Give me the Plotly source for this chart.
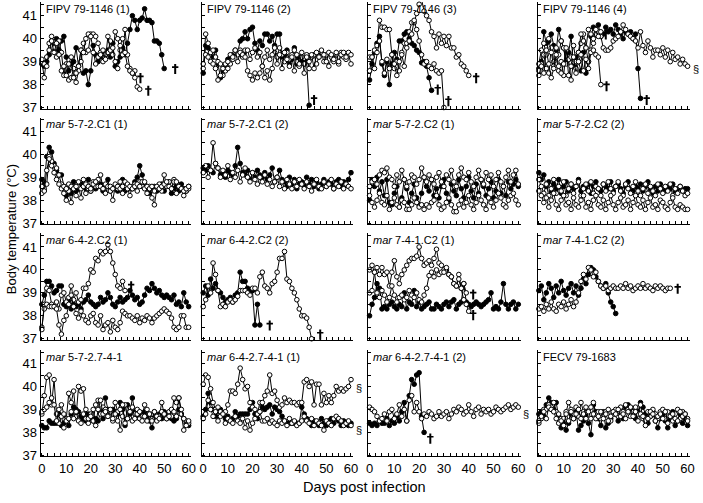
import plotly.graph_objects as go

# ---------------- data (body temperature, deg C, one value per day from day 0) -------------
p1_filled = [38.9,38.8,39.0,39.3,39.9,39.5,40.0,39.5,39.9,40.1,39.2,38.6,38.9,39.0,39.6,38.8,39.5,38.5,38.6,38.0,38.6,39.7,39.3,39.0,39.2,39.4,39.3,39.5,39.2,39.8,38.8,39.0,39.2,39.6,39.3,39.8,40.4,41.0,40.8,40.4,40.8,40.9,41.3,40.8,40.8,40.7,39.9,39.9,39.8,39.3,38.7]
p1_open_a = [39.0,38.3,39.2,39.8,40.1,39.6,39.2,39.9,39.4,38.4,38.9,38.2,38.3,38.7,38.1,38.6,39.0,39.8,39.4,39.5,40.2,40.2,40.1,39.8,39.4,39.0,39.3,39.4,39.9,39.3,40.3,40.0,39.5,39.3,40.4,39.3,38.7,38.5,38.6,37.9,37.8]
p1_open_b = [39.1,38.9,38.8,39.5,39.9,39.4,39.8,39.3,38.6,38.8,38.4,38.9,39.2,38.3,38.5,38.8,39.5,39.4,40.0,40.2,40.1,39.4,38.9,39.2,39.3,39.5,39.1,40.1,39.5,39.6,39.0,38.7,39.7,40.0,39.4,38.8,38.6,38.5,38.3]

p2_filled = [38.5,39.7,39.6,39.4,39.2,39.5,38.9,38.3,38.6,38.8,39.1,39.2,39.3,39.5,39.4,39.9,40.0,40.3,40.0,40.4,40.5,39.8,39.5,39.9,39.7,40.2,40.2,39.9,40.1,39.7,40.2,40.2,39.2,39.3,39.5,38.9,39.1,39.6,38.9,39.2,39.0,38.9,39.0,37.1]
p2_open_a = [38.7,40.2,39.8,39.4,39.5,39.2,39.0,38.9,38.4,38.6,38.7,38.9,39.1,39.4,39.3,39.5,39.2,39.5,38.6,38.4,38.2,38.5,38.3,38.5,38.8,38.3,38.6,38.2,38.7,39.4,39.2,39.6,39.3,39.0,39.4,39.1,39.3,39.5,39.0,38.8,39.2,38.9,39.3,38.7,39.2,39.3,38.9,39.2,39.4,39.0,39.3,38.8,39.2,39.0,39.3,38.9,39.4,39.2,39.1,39.3,38.9]
p2_open_b = [38.9,39.3,39.2,39.0,38.9,38.7,38.2,38.4,38.7,38.9,39.0,39.3,39.2,39.5,39.0,39.4,39.3,39.2,39.5,39.1,39.4,39.6,39.2,39.4,38.8,39.2,39.5,39.1,39.3,39.6,38.9,39.3,38.7,39.4,39.1,38.8,39.2,38.6,39.3,38.9,39.4,38.5,39.2,39.0,39.3,38.7,39.4,39.2,39.5,39.3,39.0,39.4,39.3,39.1,39.4,39.0,39.3,39.4,39.2,39.4,39.3]

p3_filled = [38.2,38.9,39.4,39.8,40.1,38.9,38.4,39.0,38.0,38.9,39.4,39.1,39.9,39.9,40.2,40.3,40.0,39.8,39.7,39.5,39.4,38.95,39.0,38.8,38.3,37.75]
p3_open_a = [39.2,39.2,39.5,39.7,40.8,40.5,40.5,40.4,40.4,39.3,38.7,39.0,38.6,39.4,39.8,39.8,40.3,40.7,40.7,41.1,41.5,41.7,41.2,41.0,40.8,40.3,40.1,39.6,40.2,39.8,40.1,39.7,40.1,39.6,39.6,39.2,39.3,38.9,38.8,38.6,38.4]
p3_open_b = [38.6,39.2,38.7,39.4,39.9,39.0,38.5,39.1,38.7,39.3,38.9,38.4,39.0,39.3,38.8,39.6,39.9,40.2,40.8,40.4,39.9,39.3,38.9,39.0,38.8,38.7,38.9,38.6,38.5,38.6,37.0]

p4_filled = [38.7,39.0,40.3,39.8,39.9,40.2,39.7,39.5,40.4,39.9,39.6,39.0,39.4,40.1,38.8,39.2,39.0,38.6,39.4,38.5,39.0,40.1,40.5,40.4,40.6,40.1,40.2,40.5,40.3,40.4,40.2,40.6,40.4,40.2,40.0,40.3,40.2,40.3,40.0,40.2,38.7,37.4]
p4_open_a = [38.6,38.9,39.3,38.7,38.5,39.6,39.0,39.2,38.6,39.0,38.4,39.5,39.1,38.2,39.0,38.7,39.4,39.8,40.2,39.6,39.0,39.5,39.8,40.2,40.3,40.1,39.6,39.5,39.5,39.6,39.9,40.0,40.1,40.3,40.6,40.4,40.2,40.1,40.0,39.9,39.6,40.3,39.7,39.4,39.9,39.6,39.2,39.5,39.5,39.3,39.6,39.2,39.5,39.0,39.4,39.1,39.2,38.9,39.1,38.9,38.8]
p4_open_b = [38.9,39.5,39.8,39.3,40.0,39.4,38.8,39.6,39.3,39.9,39.6,38.9,39.1,39.2,39.7,39.0,39.4,40.2,39.9,39.6,40.4,40.2,40.0,40.4,40.1,40.3]
p4_open_c = [38.4,38.8,38.5,39.5,38.9,38.3,38.7,39.3,38.8,38.5,38.9,39.6,38.4,38.8,39.2,38.5,39.0,39.3,38.6,39.1,38.7,39.4,39.5,39.3,39.2,38.0]

p5_filled = [38.9,38.7,39.9,40.3,40.1,39.6,39.3,39.1,39.1,38.6,38.2,38.5,38.3,38.8,38.4,38.5,38.7,38.6,38.5,38.9,38.4,38.6,38.5,38.6,38.7,38.4,38.6,38.9,38.4,38.5,38.6,38.4,38.5,38.9,38.4,38.6,38.5,38.5,38.8,39.0,39.5,39.1,38.7,38.5,38.3,38.5,38.6,38.4,38.5,38.7,38.4,38.6,38.8,38.3,38.5,38.6,38.4,38.7,38.5,38.4,38.6]
p5_open_a = [38.3,38.5,38.7,39.9,39.7,39.5,39.4,39.1,38.7,38.3,38.0,38.4,37.9,38.5,38.2,38.6,38.1,38.9,38.3,38.5,38.4,38.8,38.6,38.9,39.1,38.5,38.3,38.6,38.4,38.0,38.6,38.5,38.8,38.3,38.6,38.5,38.2,38.6,38.7,38.4,38.8,38.6,38.5,38.3,38.6,38.1,37.8,38.5,38.7,38.4,39.1,38.6,38.8,38.5,38.9,38.3,38.6,38.5,38.2,38.4,38.5]
p5_open_b = [38.6,38.4,39.3,39.8,39.5,39.2,38.9,38.7,38.5,38.6,38.5,38.7,38.6,38.5,38.6,38.8,38.5,38.6,38.7,38.6,38.5,38.7,38.8,38.6,38.6,38.5,38.7,38.6,38.6,38.5,38.7,38.6,38.5,38.6,38.8,38.7,38.6,38.5,38.6,38.7,38.6,38.8,38.8,38.6,38.5,38.6,38.4,38.6,38.5,38.6,38.7,38.8,38.6,38.5,38.8,38.8,38.6,38.5,38.4,38.5,38.6]

p6_filled = [39.4,39.3,39.5,39.3,39.2,39.6,39.4,39.1,39.2,39.0,39.3,39.2,39.1,39.5,40.3,39.6,39.2,39.1,39.3,38.9,39.2,39.0,39.3,39.1,39.0,39.2,38.9,39.1,39.4,38.8,39.0,39.3,38.9,38.8,38.6,39.0,38.7,38.9,38.5,38.7,38.8,38.6,39.0,38.7,38.9,38.6,38.8,38.5,38.7,38.9,38.6,38.8,38.7,38.5,38.8,38.9,38.6,38.8,38.7,38.9,39.2]
p6_open_a = [39.2,39.5,39.0,39.3,40.5,39.6,39.4,39.0,39.3,39.1,39.5,38.9,39.2,39.0,39.3,38.8,39.1,39.4,39.0,38.8,39.2,38.9,38.7,39.0,38.8,39.1,38.7,38.9,38.6,38.8,39.0,38.6,38.8,38.5,38.9,38.7,38.5,38.8,38.6,38.9,38.7,38.5,38.8,38.6,38.4,38.7,38.9,38.6,38.5,38.8,38.6,38.7,38.9,38.5,38.7,38.6,38.8,38.5,38.7,38.6,38.5]

p7_filled = [38.0,38.9,38.6,39.0,38.4,38.8,38.2,38.9,37.9,37.8,38.3,38.6,37.7,38.1,38.9,38.5,37.9,38.3,38.7,38.1,37.8,38.3,39.0,38.6,38.4,38.9,38.2,38.5,38.1,38.6,38.9,38.3,38.0,38.7,38.4,38.2,38.9,38.5,38.1,38.6,39.0,38.4,38.1,38.7,38.3,38.9,38.6,38.2,38.5,38.8,38.1,38.4,38.9,38.3,38.6,38.2,38.8,38.5,38.7,38.9,38.6]
p7_open_a = [38.6,38.8,38.9,38.7,39.1,39.3,39.2,39.4,39.0,38.9,38.6,39.1,38.8,39.3,38.9,38.6,38.8,39.1,39.0,38.7,38.9,39.4,39.0,38.8,39.1,38.9,38.7,39.0,39.2,38.8,38.6,39.1,38.9,39.3,38.8,38.6,39.1,39.4,39.0,38.9,39.2,38.8,38.6,39.0,39.3,38.9,38.7,39.2,38.9,39.1,38.6,38.9,39.2,38.8,38.6,39.0,39.3,38.8,39.1,39.3,38.7]
p7_open_b = [38.2,37.9,37.7,38.0,38.3,37.9,37.8,38.2,37.6,37.9,38.1,37.8,37.7,38.0,37.9,37.6,37.6,37.8,38.1,37.9,37.7,37.8,37.6,37.8,37.7,37.9,38.0,38.2,37.8,37.6,37.7,37.9,38.1,37.8,37.5,37.5,37.8,38.0,37.7,37.9,38.2,37.8,37.6,37.9,38.2,38.0,37.8,37.6,38.1,37.9,37.7,38.0,38.3,38.1,37.8,37.7,38.0,38.2,38.3,38.0,37.8]

p8_filled = [39.2,38.9,39.1,38.6,38.8,38.4,38.7,38.5,38.9,38.3,38.6,38.8,38.4,38.7,38.5,38.6,38.9,38.4,38.6,38.5,38.7,38.3,38.6,38.8,38.5,38.4,38.7,38.6,38.5,38.8,38.4,38.6,38.7,38.5,38.3,38.6,38.8,38.5,38.4,38.6,38.5,38.7,38.4,38.6,38.8,38.5,38.3,38.6,38.4,38.7,38.5,38.4,38.6,38.5,38.7,38.4,38.5,38.6,38.4,38.5,38.5]
p8_open_a = [38.9,38.6,38.3,38.7,38.2,38.5,38.9,38.3,38.6,38.4,38.8,38.2,38.5,38.7,38.3,38.6,38.8,38.2,38.5,38.7,38.4,38.8,38.3,38.6,38.5,38.2,38.7,38.4,38.8,38.5,38.3,38.6,38.8,38.4,38.2,38.7,38.5,38.3,38.6,38.8,38.4,38.2,38.5,38.7,38.3,38.6,38.4,38.2,38.7,38.5,38.3,38.6,38.4,38.7,38.2,38.5,38.3,38.6,38.4,38.2,38.3]
p8_open_b = [38.4,38.2,37.9,38.1,37.7,38.0,38.3,37.8,37.6,38.0,38.2,37.8,37.9,37.6,38.1,37.8,37.7,38.0,38.2,37.7,37.9,37.6,38.0,38.2,37.8,37.7,38.0,37.6,37.9,38.2,37.8,37.6,37.9,38.1,37.7,37.8,38.0,37.6,37.9,38.2,37.8,37.7,38.0,37.6,37.9,38.1,37.7,37.8,37.6,38.0,37.9,37.7,37.6,37.9,38.1,37.7,37.6,37.8,37.7,37.6,37.6]

p9_filled = [38.5,38.9,39.5,39.5,39.3,39.0,39.1,39.3,39.3,38.5,38.4,38.6,38.3,38.5,38.4,38.5,38.3,38.6,38.7,38.9,38.6,38.5,38.4,38.5,38.8,38.6,38.7,39.0,38.8,38.5,38.4,38.6,38.8,38.6,38.7,38.8,39.1,38.9,38.7,38.8,38.5,38.6,38.9,39.2,39.1,39.4,39.2,39.0,39.1,38.9,38.8,38.9,38.8,38.7,38.9,38.5,38.6,38.4,39.0,38.6,38.4]
p9_open_a = [37.5,38.3,39.2,39.1,38.5,38.4,38.6,38.3,38.9,39.0,38.6,38.8,39.3,38.7,39.0,38.6,38.7,39.2,39.2,39.4,40.0,39.9,40.5,40.4,40.8,40.7,40.8,41.1,40.8,40.3,39.8,39.3,39.2,39.5,39.1]
p9_open_b = [37.4,38.5,38.5,38.4,38.4,38.4,38.3,37.6,37.2,37.8,38.0,38.5,38.9,38.4,38.1,37.9,38.2,38.0,37.8,37.7,38.0,38.1,37.7,37.6,38.0,37.4,37.6,37.7,37.3,37.8,37.5,37.4,37.7,38.2,38.1,38.0,38.0,37.9,37.8,38.0,37.7,37.9,37.8,38.0,37.9,37.7,37.9,38.0,38.1,38.2,38.3,38.2,38.1,37.9,37.5,37.4,37.5,38.0,38.0,37.5,37.5]

p10_filled = [39.0,39.3,38.9,39.6,39.2,39.4,39.1,39.0,38.8,38.6,38.7,38.8,38.6,38.9,39.0,39.9,39.5,39.5,39.2,39.1,39.1,37.6,38.5,37.6]
p10_open_a = [38.4,38.7,39.3,39.0,40.3,39.8,39.1,38.4,38.5,38.4,38.6,38.7,38.6,38.7,38.85,39.1,39.1,39.1,39.0,38.9,39.2,39.2,39.0,39.7,39.9,39.3,39.2,39.0,39.4,39.5,39.9,40.5,40.5,40.8,39.6,39.5,39.2,39.0,38.7,38.3,38.0,38.0,37.9,37.5,37.0]

p11_filled = [38.0,38.5,38.8,39.4,39.2,38.3,38.4,38.3,38.5,38.6,38.4,38.3,38.5,38.4,39.0,38.3,38.6,38.5,39.1,38.4,38.6,38.3,38.4,38.5,38.6,38.3,38.3,38.5,38.4,38.3,38.5,38.6,38.4,38.6,38.7,38.3,38.5,38.6,39.4,38.6,38.5,38.4,38.5,38.6,38.5,38.4,38.5,38.6,38.7,39.0,38.3,38.4,38.3,38.6,39.4,38.5,38.3,38.5,38.6,38.3,38.5]
p11_open_a = [40.0,40.2,39.9,40.1,39.8,40.1,39.8,39.9,39.3,39.9,40.4,39.7,39.4,39.8,40.0,40.2,40.4,40.5,40.5,40.6,41.0,40.5,40.2,40.3,40.4,40.2,40.5,40.9,40.3,40.2,40.0,40.0,39.8,39.7,39.4,39.3,39.8,39.2,39.4,39.0]
p11_open_b = [39.0,39.1,39.9,39.0,38.8,39.1,38.9,38.6,38.8,39.3,38.9,38.6,38.8,38.9,38.7,38.8,39.1,38.9,38.8,39.0,38.7,38.6,38.9,39.2,39.75,39.9,39.7,40.0,39.8,39.9,39.9,40.1,39.8,39.7,39.4,39.3,39.6,39.2,38.7,38.5,38.2]

p12_filled = [39.1,39.3,38.7,39.0,39.4,39.2,38.8,39.3,39.0,39.5,39.1,38.9,39.2,39.4,39.0,39.3,38.9,39.2,39.6,39.4,39.8,40.1,40.0,39.7,39.5,39.3,39.2,39.4,39.0,38.6,38.4,38.1]
p12_open_a = [38.3,38.4,38.2,38.5,38.3,38.6,38.3,38.2,38.5,38.4,38.6,38.3,38.5,38.7,38.4,38.6,39.0,39.5,39.8,39.6,40.1,40.0,39.7,39.9,39.5,39.3,39.2,39.3,39.1,39.2,39.3,39.2,39.2,39.3,39.2,39.4,39.2,39.3,39.1,39.2,39.3,39.2,39.4,39.2,39.3,39.2,39.1,39.3,39.2,39.3,39.2,39.1,39.2,39.2]

p13_filled = [38.3,38.2,38.2,38.5,38.4,38.4,38.4,38.8,38.3,38.4,38.5,38.3,38.8,39.1,39.0,38.9,38.7,38.6,38.5,38.8,38.6,38.5,38.6,38.5,38.9,38.6,39.5,39.0,38.9,39.0,38.9,38.8,39.3,39.0,38.3,39.2,38.8,39.5,38.9,38.7,38.6,38.8,38.9,38.7,38.5,38.2,38.6,38.7,38.8,38.6,38.9,38.8,38.7,38.6,38.5,38.6,39.0,38.8,38.6,38.4,38.3]
p13_open_a = [38.8,39.6,40.4,40.5,39.2,40.3,38.8,38.4,38.7,38.2,38.6,39.7,39.3,39.8,38.7,40.0,39.8,39.9,38.6,38.4,38.8,38.5,39.2,39.4,38.8,39.1,39.0,38.7,38.9,38.5,39.3,38.9,38.1,38.7,39.2,38.6,38.9,38.5,38.8,39.0,38.6,38.7,39.2,38.5,38.8,38.6,38.9,38.5,38.7,39.3,38.8,38.6,38.9,38.7,39.5,39.3,39.5,38.8,38.1,38.5,38.4]
p13_open_b = [38.9,39.0,39.1,39.3,39.5,39.2,38.5,39.0,39.2,38.8,38.5,38.6,38.9,38.6,38.9,38.5,38.4,38.8,39.0,38.6,38.7,39.0,38.3,39.0,39.4,38.8,38.9,38.7,39.0,38.6,38.8,38.5,39.0,39.2,38.4,38.6,38.9,39.1,38.6,38.8,38.9,38.5,38.7,39.0,38.8,38.5,38.9,38.7,38.6,38.9,38.8,38.6,38.7,39.0,38.9,38.7,39.5,39.0,38.6,38.3,38.5]

p14_filled = [38.7,39.0,39.7,39.3,39.0,38.7,38.9,39.0,38.8,38.6,38.7,38.5,38.6,38.9,38.7,38.8,38.8,38.8,38.8,39.0,39.3,38.8,38.6,38.9,39.1,39.0,39.1,39.2,38.8,39.1,39.0,38.9,38.7,38.5,38.4,38.4,38.4,38.4,38.4,38.4,39.1,38.8,38.6,38.5,38.3,38.5,38.4,38.3,38.6,38.4,38.3,38.5,38.6,38.4,38.6,38.5,38.3,38.5,38.4,38.3,38.4]
p14_open_a = [40.1,40.5,40.4,39.9,39.3,39.0,39.1,38.9,38.8,38.9,39.2,39.8,39.8,39.7,40.1,40.8,40.3,39.9,40.0,39.3,39.1,39.0,38.8,39.3,39.3,39.6,39.8,40.5,39.7,39.8,39.4,39.1,39.2,39.5,39.3,39.4,39.3,39.3,39.2,39.3,39.3,40.2,40.3,40.0,40.2,39.2,40.1,40.1,39.2,39.7,39.3,39.6,39.3,39.6,40.0,39.8,39.9,39.8,39.9,40.0,40.3]
p14_open_b = [38.6,38.8,39.4,39.0,38.7,38.9,38.5,38.7,38.8,38.4,38.6,38.5,38.4,38.7,38.5,38.4,38.6,38.2,38.5,38.1,38.4,38.6,38.8,38.9,38.5,38.5,38.6,38.4,38.5,38.4,38.3,38.5,38.4,38.5,38.3,38.6,38.4,38.5,38.3,38.4,38.5,38.7,38.5,38.4,38.6,38.3,38.5,38.4,38.3,38.1,38.5,38.4,38.3,38.6,38.7,38.6,38.5,38.3,38.4,38.5,38.3]

p15_filled = [38.4,38.3,38.4,38.3,38.5,38.4,38.4,38.6,38.3,38.5,38.4,38.7,38.5,38.9,39.3,38.5,39.6,40.3,40.1,40.5,40.6,38.7,38.0]
p15_open_a = [39.1,39.0,38.9,38.7,38.5,38.6,38.8,38.5,38.9,39.0,38.6,38.8,39.2,38.7,39.0,38.5,39.4,39.6,38.9,39.3,38.9,38.6,38.8,38.7,38.9,38.8,38.6,38.7,38.9,38.7,38.8,38.9,38.6,38.8,39.0,38.9,39.1,39.0,38.8,38.9,39.2,38.9,38.7,39.0,39.1,38.8,39.0,38.9,39.0,38.8,38.9,39.1,39.0,38.9,39.0,39.1,39.2,39.0,39.1,39.2,39.1]

p16_filled = [38.8,38.9,38.7,39.2,39.5,39.3,39.0,39.3,38.7,38.2,38.4,38.1,38.4,38.8,38.6,38.9,38.1,38.3,38.5,38.7,38.4,37.9,39.2,38.9,38.6,38.3,38.9,38.2,38.4,38.6,38.9,38.8,38.5,38.7,38.6,39.1,39.2,39.0,38.8,38.6,38.9,39.3,39.1,38.8,38.4,38.7,38.9,38.5,38.2,38.6,38.8,38.5,38.2,38.6,38.9,38.3,38.5,38.8,38.4,38.6,38.3]
p16_open_a = [38.4,38.6,39.0,39.0,39.2,39.1,39.3,38.9,38.8,38.6,38.6,38.9,39.3,39.0,38.8,39.1,38.7,39.3,38.9,38.6,39.0,39.1,39.3,38.8,38.9,38.6,38.7,38.9,39.0,38.5,38.8,39.0,38.7,39.1,38.9,39.2,39.0,38.7,38.9,39.1,38.8,39.2,38.6,38.5,38.9,38.7,39.0,38.8,38.6,38.9,39.0,38.6,38.9,38.7,38.5,38.8,39.0,38.6,38.9,38.8,38.6]
p16_open_b = [38.5,38.7,38.9,38.6,39.1,39.0,38.9,38.6,38.4,38.5,38.3,38.8,38.5,38.9,38.6,38.8,39.0,38.6,38.8,39.1,38.9,38.6,38.8,38.6,38.7,38.9,38.6,38.8,38.5,38.7,38.9,38.8,39.0,38.7,38.8,38.6,38.9,39.1,38.7,38.9,38.5,38.8,38.7,38.3,38.6,38.9,38.8,38.5,38.7,38.8,38.6,38.9,38.4,38.7,38.8,38.6,38.5,38.9,38.7,38.8,38.5]

panel_titles = ["FIPV 79-1146 (1)", "FIPV 79-1146 (2)", "FIPV 79-1146 (3)", "FIPV 79-1146 (4)",
                "<i>mar</i> 5-7-2.C1 (1)", "<i>mar</i> 5-7-2.C1 (2)", "<i>mar</i> 5-7-2.C2 (1)", "<i>mar</i> 5-7-2.C2 (2)",
                "<i>mar</i> 6-4-2.C2 (1)", "<i>mar</i> 6-4-2.C2 (2)", "<i>mar</i> 7-4-1.C2 (1)", "<i>mar</i> 7-4-1.C2 (2)",
                "<i>mar</i> 5-7-2.7-4-1", "<i>mar</i> 6-4-2.7-4-1 (1)", "<i>mar</i> 6-4-2.7-4-1 (2)", "FECV 79-1683"]

# death (dagger) positions: (day, temperature)
p1_deaths = [(54.5, 38.7), (43.5, 37.75), (40.3, 38.3)]
p2_deaths = [(45.0, 37.35)]
p3_deaths = [(27.5, 37.8), (31.8, 37.3), (43.0, 38.3)]
p4_deaths = [(27.0, 40.2), (27.3, 37.95), (43.5, 37.35)]
p9_deaths = [(36.5, 39.3)]
p10_deaths = [(27.0, 37.6), (47.5, 37.2)]
p11_deaths = [(41.8, 38.95), (41.8, 38.05)]
p12_deaths = [(56.0, 39.2)]
p15_deaths = [(24.5, 37.75)]
# end-of-study (section sign) marks, placed just after the last day: (day, temperature)
p4_ends = [(60, 38.7)]
p14_ends = [(60, 39.95), (60, 38.1)]
p15_ends = [(60, 38.8)]

x_tick_labels = ["0", "10", "20", "30", "40", "50", "60"]
y_tick_labels = ["37", "38", "39", "40", "41"]

panel_series = [
    [p1_filled, p1_open_a, p1_open_b], [p2_filled, p2_open_a, p2_open_b],
    [p3_filled, p3_open_a, p3_open_b], [p4_filled, p4_open_a, p4_open_b, p4_open_c],
    [p5_filled, p5_open_a, p5_open_b], [p6_filled, p6_open_a],
    [p7_filled, p7_open_a, p7_open_b], [p8_filled, p8_open_a, p8_open_b],
    [p9_filled, p9_open_a, p9_open_b], [p10_filled, p10_open_a],
    [p11_filled, p11_open_a, p11_open_b], [p12_filled, p12_open_a],
    [p13_filled, p13_open_a, p13_open_b], [p14_filled, p14_open_a, p14_open_b],
    [p15_filled, p15_open_a], [p16_filled, p16_open_a, p16_open_b],
]
panel_deaths = [p1_deaths, p2_deaths, p3_deaths, p4_deaths, [], [], [], [],
                p9_deaths, p10_deaths, p11_deaths, p12_deaths, [], [], p15_deaths, []]
panel_ends = [[], [], [], p4_ends, [], [], [], [], [], [], [], [], [], p14_ends, p15_ends, []]

# ---------------- layout geometry (pixels) ----------------
W, H = 703, 503
FONT = "Liberation Sans, Arial, Helvetica, sans-serif"
col_px = [(39, 191), (202, 355), (370, 524), (541, 695)]
row_px = [(2, 110), (119, 227), (236, 344), (354, 462)]
X_RANGE = [-0.5, 61]
Y_RANGE = [36.95, 41.6]

fig = go.Figure()
layout = dict(width=W, height=H, margin=dict(l=0, r=0, t=0, b=0),
              paper_bgcolor="white", plot_bgcolor="white", showlegend=False,
              font=dict(family=FONT, color="black"))
annotations = []
shapes = []

x_tickvals = [i * 2.5 for i in range(25)]
y_tickvals = [37 + i * 0.5 for i in range(10)]

for idx in range(16):
    r, c = divmod(idx, 4)
    k = idx + 1
    xname = "x" if k == 1 else f"x{k}"
    yname = "y" if k == 1 else f"y{k}"
    x0, x1 = col_px[c]
    yt, yb = row_px[r]
    xt_text = [x_tick_labels[int(v // 10)] if (r == 3 and v % 10 == 0) else "" for v in x_tickvals]
    yt_text = [y_tick_labels[int(v) - 37] if (c == 0 and v == int(v)) else "" for v in y_tickvals]
    layout["xaxis" if k == 1 else f"xaxis{k}"] = dict(
        domain=[x0 / W, x1 / W], range=X_RANGE, anchor=yname,
        showline=True, linecolor="black", linewidth=1, mirror=False,
        ticks="inside", ticklen=3, tickwidth=1, tickcolor="black",
        tickmode="array", tickvals=x_tickvals, ticktext=xt_text,
        showgrid=False, zeroline=False, tickfont=dict(size=13, family=FONT, color="black"))
    layout["yaxis" if k == 1 else f"yaxis{k}"] = dict(
        domain=[1 - yb / H, 1 - yt / H], range=Y_RANGE, anchor=xname,
        showline=True, linecolor="black", linewidth=1, mirror=False,
        ticks="inside", ticklen=3, tickwidth=1, tickcolor="black",
        tickmode="array", tickvals=y_tickvals, ticktext=yt_text,
        showgrid=False, zeroline=False, tickfont=dict(size=13, family=FONT, color="black"))

    for si, vals in enumerate(panel_series[idx]):
        filled = si == 0
        fig.add_trace(go.Scatter(
            x=list(range(len(vals))), y=vals, xaxis=xname, yaxis=yname,
            mode="lines+markers", cliponaxis=False, hoverinfo="skip",
            line=dict(color="black", width=1),
            marker=dict(size=4.6, color="black" if filled else "white",
                        line=dict(color="black", width=1))))

    # daggers drawn as small crosses in data coordinates
    for (dx, dy) in panel_deaths[idx]:
        shapes.append(dict(type="line", xref=xname, yref=yname, x0=dx, x1=dx,
                           y0=dy - 0.24, y1=dy + 0.2, line=dict(color="black", width=2)))
        shapes.append(dict(type="line", xref=xname, yref=yname, x0=dx - 1.3, x1=dx + 1.3,
                           y0=dy + 0.06, y1=dy + 0.06, line=dict(color="black", width=1.6)))
    for (dx, dy) in panel_ends[idx]:
        annotations.append(dict(x=dx, y=dy, xref=xname, yref=yname, text="§",
                                showarrow=False, xanchor="center", yanchor="middle", xshift=8,
                                font=dict(size=11, family=FONT, color="black")))

    annotations.append(dict(x=(x0 + 3) / W, y=1 - (yt + 7) / H, xref="paper", yref="paper",
                            text=panel_titles[idx], showarrow=False, xanchor="left",
                            yanchor="middle", font=dict(size=11, family=FONT, color="black")))

annotations.append(dict(x=366 / W, y=1 - 493 / H, xref="paper", yref="paper",
                        text="Days post infection", showarrow=False, xanchor="center",
                        yanchor="middle", font=dict(size=14.5, family=FONT, color="black")))
annotations.append(dict(x=9 / W, y=1 - 232 / H, xref="paper", yref="paper",
                        text="Body temperature (°C)", showarrow=False, textangle=-90,
                        xanchor="center", yanchor="middle",
                        font=dict(size=13, family=FONT, color="black")))
layout["annotations"] = annotations
layout["shapes"] = shapes
fig.update_layout(**layout)
fig.write_html("out.html", config={"displayModeBar": False},
               post_script="document.body.style.margin='0px';")
